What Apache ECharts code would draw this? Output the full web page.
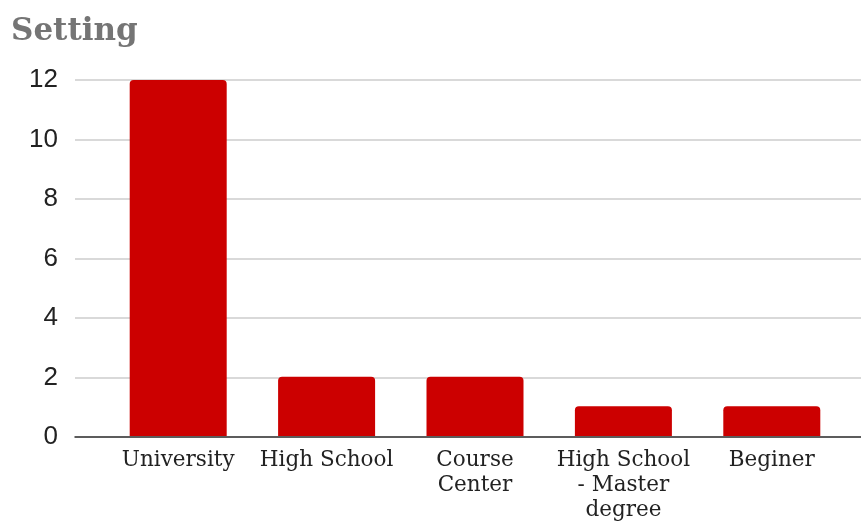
<!DOCTYPE html>
<html><head><meta charset="utf-8">
<script src="https://cdn.jsdelivr.net/npm/echarts@6/dist/echarts.min.js"></script>
<style>html,body{margin:0;padding:0;background:#fff}#c{width:861px;height:523px}</style>
</head><body><div id="c"></div>
<script>
const categories = ['University', 'High School', 'Course Center', 'High School - Master degree', 'Beginer'];
const tickLabels = ['University', 'High School', 'Course\nCenter', 'High School\n- Master\ndegree', 'Beginer'];
const values = [12, 2, 2, 1, 1];
const yTicks = [0, 2, 4, 6, 8, 10, 12];

const chart = echarts.init(document.getElementById('c'), null, {renderer: 'canvas'});
chart.setOption({
  animation: false,
  title: {
    text: 'Setting', left: 6, top: 11,
    textStyle: {fontFamily: 'DejaVu Serif', fontWeight: 'bold', fontSize: 31, color: '#757575'}
  },
  grid: [
    {left: 75, right: 0, top: 80, bottom: 86},
    {left: 104, right: 15, top: 80, bottom: 86}
  ],
  xAxis: [
    {gridIndex: 0, type: 'category', data: categories, axisLabel: {show: false}, axisTick: {show: false},
     axisLine: {show: true, lineStyle: {color: '#333', width: 1.5}}, z: 10},
    {gridIndex: 1, type: 'category', data: categories, axisTick: {show: false}, axisLine: {show: false},
     axisLabel: {
       interval: 0, margin: 12, color: '#222', fontFamily: 'DejaVu Serif', fontSize: 21.5, lineHeight: 25,
       formatter: (v, i) => tickLabels[i]
     }}
  ],
  yAxis: [
    {gridIndex: 0, type: 'value', min: yTicks[0], max: yTicks[yTicks.length - 1], interval: 2,
     axisLine: {show: false}, axisTick: {show: false},
     axisLabel: {margin: 17, color: '#222', fontFamily: 'Liberation Sans', fontSize: 26},
     splitLine: {lineStyle: {color: '#cccccc', width: 1.5}}},
    {gridIndex: 1, type: 'value', min: 0, max: 12, interval: 2, show: false}
  ],
  series: [{
    type: 'bar', xAxisIndex: 1, yAxisIndex: 1, data: values, barWidth: 97,
    itemStyle: {color: '#cc0000', borderRadius: [4, 4, 0, 0]}
  }]
});
</script></body></html>
